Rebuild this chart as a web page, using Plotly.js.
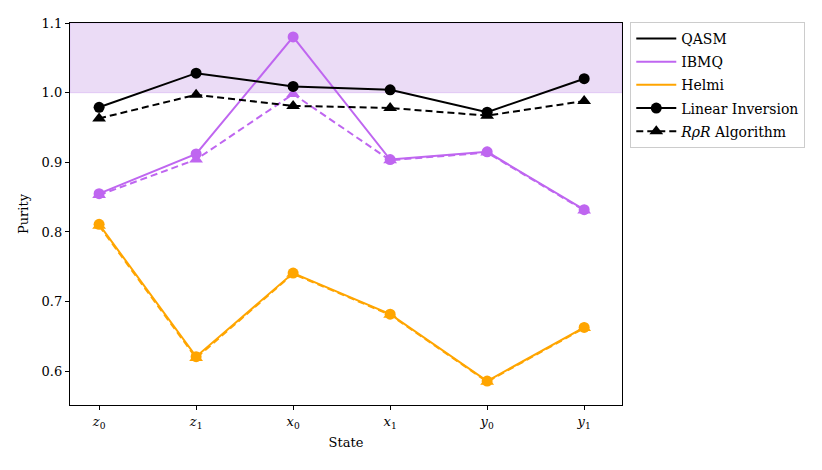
<!DOCTYPE html>
<html>
<head>
<script src="https://cdn.plot.ly/plotly-3.0.1.min.js"></script>
<style>body{margin:0;background:#fff}</style>
</head>
<body>
<div id="chart" style="width:822px;height:470px"></div>
<script>
  // states on the x axis
  const states = [0, 1, 2, 3, 4, 5];
  const stateLabels = ['<i>z</i><sub>0</sub>', '<i>z</i><sub>1</sub>', '<i>x</i><sub>0</sub>',
                       '<i>x</i><sub>1</sub>', '<i>y</i><sub>0</sub>', '<i>y</i><sub>1</sub>'];

  // purity, linear inversion vs RpR algorithm
  const qasmLinear = [0.979, 1.028, 1.009, 1.004, 0.972, 1.020];
  const qasmRpr    = [0.963, 0.997, 0.981, 0.978, 0.967, 0.988];
  const ibmqLinear = [0.855, 0.912, 1.080, 0.904, 0.915, 0.832];
  const ibmqRpr    = [0.853, 0.904, 0.998, 0.903, 0.914, 0.831];
  const helmiLinear = [0.811, 0.621, 0.741, 0.682, 0.586, 0.663];
  const helmiRpr    = [0.809, 0.619, 0.740, 0.681, 0.585, 0.662];

  const black = '#000000', purple = 'rgb(191,102,240)', orange = '#FFA500';
  const dashed = '7px,4px';

  function series(y, color, dash, symbol) {
    return {
      x: states, y: y, type: 'scatter', mode: 'lines+markers',
      line: {color: color, width: 2, dash: dash},
      marker: {color: color, size: symbol == 'circle' ? 11 : 12, symbol: symbol},
      showlegend: false, hoverinfo: 'skip'
    };
  }

  // legend only entries, one group each so the gap spaces the rows
  function legendOnly(name, color, dash, symbol) {
    let t = {x: [null], y: [null], type: 'scatter', name: name, legendgroup: name,
      mode: symbol ? 'lines+markers' : 'lines',
      line: {color: color, width: 2, dash: dash}};
    if (symbol) t.marker = {color: color, size: symbol == 'circle' ? 11 : 12, symbol: symbol};
    return t;
  }

  let data = [
    series(helmiRpr, orange, dashed, 'triangle-up'),
    series(helmiLinear, orange, 'solid', 'circle'),
    series(ibmqRpr, purple, dashed, 'triangle-up'),
    series(ibmqLinear, purple, 'solid', 'circle'),
    series(qasmRpr, black, dashed, 'triangle-up'),
    series(qasmLinear, black, 'solid', 'circle'),
    legendOnly('QASM', black, 'solid'),
    legendOnly('IBMQ', purple, 'solid'),
    legendOnly('Helmi', orange, 'solid'),
    legendOnly('Linear Inversion', black, 'solid', 'circle'),
    legendOnly('<i>RρR</i> Algorithm', black, dashed, 'triangle-up')
  ];

  let layout = {
    width: 822, height: 470,
    margin: {l: 70, r: 200, t: 23, b: 65},
    paper_bgcolor: '#fff', plot_bgcolor: '#fff',
    font: {family: 'DejaVu Serif, serif', size: 13, color: '#000'},
    showlegend: true,
    legend: {x: 1.015, y: 1.003, xanchor: 'left', yanchor: 'top',
      bordercolor: '#cccccc', borderwidth: 1, bgcolor: '#fff',
      font: {size: 14}, tracegroupgap: 2, itemwidth: 40},
    xaxis: {
      range: [-0.3, 5.39], tickvals: states, ticktext: stateLabels,
      showgrid: false, zeroline: false, showline: true, linecolor: '#000', linewidth: 1.2,
      mirror: true, ticks: 'outside', ticklen: 4, tickcolor: '#000',
      title: {text: 'State', font: {size: 13}, standoff: 8}
    },
    yaxis: {
      range: [0.5516, 1.1], tickvals: [0.6, 0.7, 0.8, 0.9, 1.0, 1.1], tickformat: '.1f',
      showgrid: false, zeroline: false, showline: true, linecolor: '#000', linewidth: 1.2,
      mirror: true, ticks: 'outside', ticklen: 4, tickcolor: '#000',
      title: {text: 'Purity', font: {size: 13}, standoff: 10}
    },
    shapes: [{
      type: 'rect', xref: 'paper', yref: 'y', x0: 0, x1: 1, y0: 1.0, y1: 1.1,
      fillcolor: 'rgb(235,220,246)', line: {color: 'rgb(225,200,245)', width: 1}, layer: 'below'
    }]
  };

  Plotly.newPlot('chart', data, layout, {displayModeBar: false, staticPlot: true});
</script>
</body>
</html>
